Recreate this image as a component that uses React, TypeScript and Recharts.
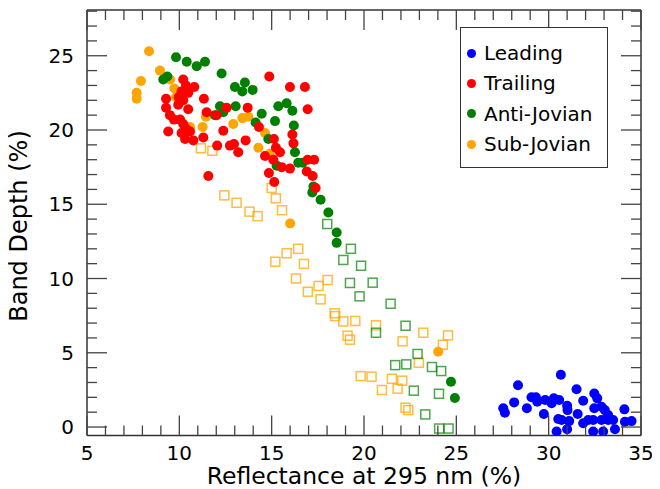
import { ScatterChart, Scatter, XAxis, YAxis, ReferenceLine } from 'recharts';

// chart values: [reflectance %, band depth %]
const leading = [
  [27.54, 1.26], [27.63, 0.96], [28.13, 1.66], [28.34, 2.81], [28.82, 1.26], [29.07, 2.0],
  [29.31, 2.0], [29.38, 1.7], [29.74, 0.88], [29.81, 1.82], [30.16, 1.6], [30.28, 1.93],
  [30.57, 1.82], [30.66, 3.52], [30.43, -0.3], [30.52, 0.54], [30.7, 0.47], [31.0, 1.43],
  [31.02, 1.14], [31.11, 0.4], [31.0, -0.15], [31.51, 2.54], [31.87, 1.77], [31.57, 0.88],
  [31.87, 0.25], [32.14, 0.47], [32.41, 0.47], [32.41, -0.3], [32.47, 2.26], [32.63, 1.93],
  [32.47, 1.26], [32.86, 1.37], [33.04, 1.14], [33.22, 0.81], [32.86, 0.47], [33.22, 0.47],
  [33.49, 0.47], [32.95, -0.3], [33.59, -0.15], [34.1, 1.19], [34.13, 0.36], [34.49, 0.4],
];

const trailing = [
  [14.87, 23.6], [15.99, 22.9], [16.8, 22.9], [16.95, 21.4], [10.21, 23.4], [10.81, 22.9],
  [10.36, 23.0], [10.12, 22.6], [10.48, 22.5], [9.96, 22.2], [9.28, 22.1], [9.28, 21.5],
  [9.94, 21.7], [10.21, 22.0], [11.33, 22.1], [10.48, 21.4], [11.48, 21.2], [9.49, 21.0],
  [9.71, 20.7], [10.04, 20.7], [10.21, 20.4], [10.36, 20.1], [9.4, 19.9], [10.12, 19.8],
  [10.58, 19.9], [10.31, 19.4], [10.76, 19.3], [12.56, 21.5], [12.02, 21.0], [13.7, 21.5],
  [12.38, 19.95], [11.3, 19.5], [12.05, 18.95], [12.74, 18.95], [12.96, 19.05], [13.19, 18.5],
  [13.59, 19.3], [14.31, 20.2], [11.57, 16.9], [15.12, 19.4], [15.23, 18.8], [15.45, 18.5],
  [14.64, 18.25], [15.09, 18.0], [15.54, 17.5], [15.99, 17.4], [16.12, 19.7], [16.18, 19.1],
  [16.95, 18.0], [17.3, 18.0], [16.9, 17.2], [17.22, 16.9], [17.38, 16.1], [14.85, 17.1],
  [15.14, 16.5],
];

const antiJovian = [
  [9.82, 24.9], [10.4, 24.6], [10.94, 24.3], [11.39, 24.6], [9.13, 23.4], [9.35, 23.6],
  [12.29, 23.8], [13.01, 22.9], [13.55, 23.2], [13.41, 22.6], [13.97, 22.7], [12.2, 21.6],
  [12.38, 21.2], [11.93, 21.0], [13.05, 21.6], [14.46, 21.1], [14.13, 20.5], [15.36, 21.6],
  [15.81, 21.8], [16.12, 21.3], [15.18, 20.6], [16.2, 20.3], [14.82, 19.4], [16.26, 18.5],
  [16.44, 17.8], [16.68, 17.8], [15.27, 17.6], [17.26, 16.2], [17.2, 15.8], [17.65, 15.3],
  [18.07, 14.45], [18.52, 13.1], [18.52, 12.4], [24.71, 3.05], [24.92, 1.95],
];

const subJovian = [
  [8.36, 25.3], [8.95, 24.0], [7.92, 23.3], [7.69, 22.5], [7.69, 22.1], [9.5, 23.4],
  [9.73, 22.8], [9.82, 22.2], [10.58, 20.2], [11.44, 20.9], [11.26, 20.2], [12.92, 20.4],
  [13.41, 20.8], [13.73, 20.9], [14.64, 19.8], [14.28, 18.8], [14.9, 18.4], [16.0, 13.7],
  [24.02, 5.07],
];

const antiJovianOpen = [
  [18.01, 13.67], [19.29, 12.0], [18.88, 11.25], [19.84, 10.86], [19.24, 9.7], [20.47, 9.72],
  [19.76, 8.8], [21.44, 8.3], [22.25, 6.82], [20.65, 6.35], [22.9, 4.92], [21.69, 4.17],
  [22.29, 4.22], [23.68, 4.04], [24.18, 3.77], [22.7, 2.45], [24.06, 2.24], [23.32, 0.85],
  [24.07, -0.1], [24.58, -0.1],
];

const subJovianOpen = [
  [11.17, 18.77], [11.79, 18.6], [12.44, 15.6], [13.1, 15.1], [13.8, 14.5], [14.24, 14.2],
  [15.0, 16.1], [15.23, 15.4], [15.56, 14.6], [15.2, 11.13], [15.81, 11.7], [16.44, 12.0],
  [16.75, 10.98], [16.32, 10.0], [18.03, 9.9], [17.54, 9.5], [16.96, 9.11], [17.65, 8.6],
  [18.41, 7.66], [18.44, 7.47], [18.88, 7.11], [19.53, 7.14], [19.11, 6.15], [19.24, 5.88],
  [20.65, 6.85], [23.21, 6.35], [24.55, 6.17], [24.27, 5.54], [22.09, 5.77], [22.97, 4.33],
  [19.82, 3.43], [20.41, 3.39], [21.51, 3.25], [22.07, 3.12], [20.97, 2.49], [21.82, 2.58],
  [22.25, 1.3], [22.4, 1.14],
];

const legendItems = [
  { name: 'Leading', color: '#0000ff' },
  { name: 'Trailing', color: '#ff0000' },
  { name: 'Anti-Jovian', color: '#008000' },
  { name: 'Sub-Jovian', color: '#ffa500' },
];

const xTicks = Array.from({ length: 31 }, (_, i) => 5 + i);
const yTicks = Array.from({ length: 29 }, (_, i) => i);
const X_DOMAIN = [5, 35];
const Y_DOMAIN = [-0.57, 28.08];

const toPts = (arr: number[][]) => arr.map(([x, y]) => ({ x, y }));

// plot box in svg coordinates
const W = 652;
const H = 481;
const M = { top: 2, right: 19, left: 79, bottom: 53.5 };
const TOP = M.top;
const BOTTOM = H - M.bottom;
const RIGHT = W - M.right;

const FONT = 'DejaVu Sans, sans-serif';
const TICK_COLOR = '#444';

const XTick = (props: any) => {
  const { x, payload } = props;
  const v = payload.value;
  const major = v % 5 === 0;
  const len = major ? 20 : 10;
  return (
    <g>
      <line x1={x} x2={x} y1={BOTTOM} y2={BOTTOM - len} stroke={TICK_COLOR} strokeWidth={1.3} />
      <line x1={x} x2={x} y1={TOP} y2={TOP + len} stroke={TICK_COLOR} strokeWidth={1.3} />
      {major && (
        <text x={x} y={BOTTOM + 24.5} textAnchor="middle" fontSize={20} fontFamily={FONT} fill="#000">
          {v}
        </text>
      )}
    </g>
  );
};

const YTick = (props: any) => {
  const { y, payload } = props;
  const v = payload.value;
  const major = v % 5 === 0;
  const len = major ? 20 : 10;
  const left = M.left;
  return (
    <g>
      <line x1={left} x2={left + len} y1={y} y2={y} stroke={TICK_COLOR} strokeWidth={1.3} />
      <line x1={RIGHT} x2={RIGHT - len} y1={y} y2={y} stroke={TICK_COLOR} strokeWidth={1.3} />
      {major && (
        <text x={left - 13} y={y + 7} textAnchor="end" fontSize={20} fontFamily={FONT} fill="#000">
          {v}
        </text>
      )}
    </g>
  );
};

const dot = (color: string) => (props: any) => (
  <circle cx={props.cx} cy={props.cy} r={5} fill={color} />
);

const square = (color: string, opacity: number) => (props: any) => (
  <rect
    x={props.cx - 4.5}
    y={props.cy - 4.5}
    width={9}
    height={9}
    fill="none"
    stroke={color}
    strokeWidth={1.5}
    strokeOpacity={opacity}
  />
);

const LegendBox = () => (
  <div
    style={{
      position: 'absolute',
      left: 452,
      top: 19,
      width: 148,
      height: 141,
      border: '1px solid #333',
      background: '#fff',
      boxSizing: 'border-box',
      fontFamily: FONT,
      fontSize: 20,
    }}
  >
    {legendItems.map((it, i) => (
      <div
        key={it.name}
        style={{ position: 'absolute', left: 6, top: 13 + i * 30.4, height: 24, display: 'flex', alignItems: 'center' }}
      >
        <span
          style={{ width: 9, height: 9, borderRadius: '50%', background: it.color, display: 'inline-block', marginRight: 8 }}
        />
        <span style={{ color: '#000', lineHeight: '24px' }}>{it.name}</span>
      </div>
    ))}
  </div>
);

export default function App() {
  return (
    <div style={{ width: W, height: H, position: 'relative' }}>
      <ScatterChart width={W} height={H} margin={{ top: M.top, right: M.right, left: 0, bottom: 0 }}>
        <XAxis
          type="number"
          dataKey="x"
          domain={X_DOMAIN}
          ticks={xTicks}
          interval={0}
          allowDataOverflow
          height={M.bottom}
          tickSize={0}
          tickMargin={0}
          tickLine={false}
          tick={<XTick />}
          axisLine={{ stroke: '#333', strokeWidth: 1.5 }}
        />
        <YAxis
          type="number"
          dataKey="y"
          domain={Y_DOMAIN}
          ticks={yTicks}
          interval={0}
          allowDataOverflow
          width={M.left}
          tickSize={0}
          tickMargin={0}
          tickLine={false}
          tick={<YTick />}
          axisLine={{ stroke: '#333', strokeWidth: 1.5 }}
        />
        <ReferenceLine y={Y_DOMAIN[1]} stroke="#333" strokeWidth={1.5} />
        <ReferenceLine x={X_DOMAIN[1]} stroke="#333" strokeWidth={1.5} />
        <Scatter data={toPts(subJovianOpen)} shape={square('#ffa500', 0.75)} isAnimationActive={false} />
        <Scatter data={toPts(antiJovianOpen)} shape={square('#008000', 0.7)} isAnimationActive={false} />
        <Scatter data={toPts(leading)} shape={dot('#0000ff')} isAnimationActive={false} />
        <Scatter data={toPts(subJovian)} shape={dot('#ffa500')} isAnimationActive={false} />
        <Scatter data={toPts(antiJovian)} shape={dot('#008000')} isAnimationActive={false} />
        <Scatter data={toPts(trailing)} shape={dot('#ff0000')} isAnimationActive={false} />
      </ScatterChart>
      <LegendBox />
      <div
        style={{
          position: 'absolute',
          left: 0,
          top: 0,
          width: W,
          height: H,
          pointerEvents: 'none',
          fontFamily: FONT,
        }}
      >
        <div style={{ position: 'absolute', left: 156, width: 400, top: 458, textAlign: 'center', fontSize: 23.5, lineHeight: '20px' }}>
          Reflectance at 295 nm (%)
        </div>
        <div
          style={{
            position: 'absolute',
            left: 11 - 110,
            top: 217.5 - 14,
            width: 220,
            textAlign: 'center',
            fontSize: 24,
            lineHeight: '28px',
            transform: 'rotate(-90deg)',
          }}
        >
          Band Depth (%)
        </div>
      </div>
    </div>
  );
}
